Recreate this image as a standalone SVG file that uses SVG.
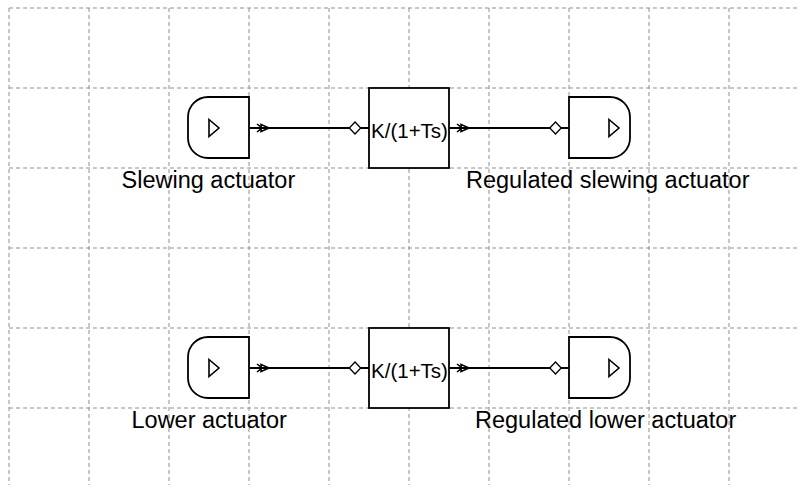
<svg xmlns="http://www.w3.org/2000/svg" width="800" height="485" viewBox="0 0 800 485">
<style>
.grid line{stroke:#8f8f8f;stroke-width:1;stroke-dasharray:4,3;fill:none}
.blk{fill:#fff;stroke:#000;stroke-width:1.8}
.tri{fill:none;stroke:#000;stroke-width:1.6;stroke-linejoin:miter}
.wire{stroke:#000;stroke-width:1.8;fill:none}
.port{fill:#fff;stroke:#000;stroke-width:1.3}
.arr{fill:none;stroke:#000;stroke-width:1.6}
.lbl{font-family:"Liberation Sans",Arial,sans-serif;font-size:23.5px;fill:#000}
.tf{font-family:"Liberation Sans",Arial,sans-serif;font-size:20.5px;fill:#000;text-anchor:middle}
</style>
<defs>
<g id="outArrow">
<path class="arr" d="M-4,-4 L1,0 L-4,4"/>
<path class="arr" d="M0,-3.5 L8,0 L0,3.5 Z"/>
</g>
<path id="inDiamond" class="port" d="M-5.7,0 L0,-6 L5.7,0 L0,6 Z"/>
</defs>
<rect width="800" height="485" fill="#fff"/>
<g class="grid">
<line x1="9" y1="8" x2="800" y2="8"/>
<line x1="9" y1="88" x2="800" y2="88"/>
<line x1="9" y1="168" x2="800" y2="168"/>
<line x1="9" y1="248" x2="800" y2="248"/>
<line x1="9" y1="328" x2="800" y2="328"/>
<line x1="9" y1="408" x2="800" y2="408"/>
<line x1="9" y1="8" x2="9" y2="485"/>
<line x1="89" y1="8" x2="89" y2="485"/>
<line x1="169" y1="8" x2="169" y2="485"/>
<line x1="249" y1="8" x2="249" y2="485"/>
<line x1="329" y1="8" x2="329" y2="485"/>
<line x1="409" y1="8" x2="409" y2="485"/>
<line x1="489" y1="8" x2="489" y2="485"/>
<line x1="569" y1="8" x2="569" y2="485"/>
<line x1="649" y1="8" x2="649" y2="485"/>
<line x1="729" y1="8" x2="729" y2="485"/>
</g>
<g id="connectors">
<line class="wire" x1="249" y1="128" x2="369" y2="128"/>
<line class="wire" x1="449" y1="128" x2="569" y2="128"/>
<line class="wire" x1="249" y1="368" x2="369" y2="368"/>
<line class="wire" x1="449" y1="368" x2="569" y2="368"/>
<use href="#outArrow" x="261" y="128"/>
<use href="#inDiamond" x="355" y="128"/>
<use href="#outArrow" x="461" y="128"/>
<use href="#inDiamond" x="555.5" y="128"/>
<use href="#outArrow" x="261" y="368"/>
<use href="#inDiamond" x="355" y="368"/>
<use href="#outArrow" x="461" y="368"/>
<use href="#inDiamond" x="555.5" y="368"/>
</g>
<g id="slewing-actuator">
<path class="blk" d="M249,97 H208 A20,20 0 0 0 188,117 V138 A20,20 0 0 0 208,158 H249 Z"/>
<path class="tri" d="M209,119.5 L219,128 L209,136.5 Z"/>
<text class="lbl" x="121.5" y="188">Slewing actuator</text>
</g>
<g id="tf-slewing">
<rect class="blk" x="369" y="88" width="80" height="80"/>
<text class="tf" x="409.5" y="137.5">K/(1+Ts)</text>
</g>
<g id="regulated-slewing-actuator">
<path class="blk" d="M569,97 H610 A20,20 0 0 1 630,117 V138 A20,20 0 0 1 610,158 H569 Z"/>
<path class="tri" d="M609,119.5 L619,128 L609,136.5 Z"/>
<text class="lbl" x="466" y="188">Regulated slewing actuator</text>
</g>
<g id="lower-actuator">
<path class="blk" d="M249,337 H208 A20,20 0 0 0 188,357 V378 A20,20 0 0 0 208,398 H249 Z"/>
<path class="tri" d="M209,359.5 L219,368 L209,376.5 Z"/>
<text class="lbl" x="131.5" y="428">Lower actuator</text>
</g>
<g id="tf-lower">
<rect class="blk" x="369" y="328" width="80" height="80"/>
<text class="tf" x="409.5" y="377.5">K/(1+Ts)</text>
</g>
<g id="regulated-lower-actuator">
<path class="blk" d="M569,337 H610 A20,20 0 0 1 630,357 V378 A20,20 0 0 1 610,398 H569 Z"/>
<path class="tri" d="M609,359.5 L619,368 L609,376.5 Z"/>
<text class="lbl" x="475" y="428">Regulated lower actuator</text>
</g>
</svg>
